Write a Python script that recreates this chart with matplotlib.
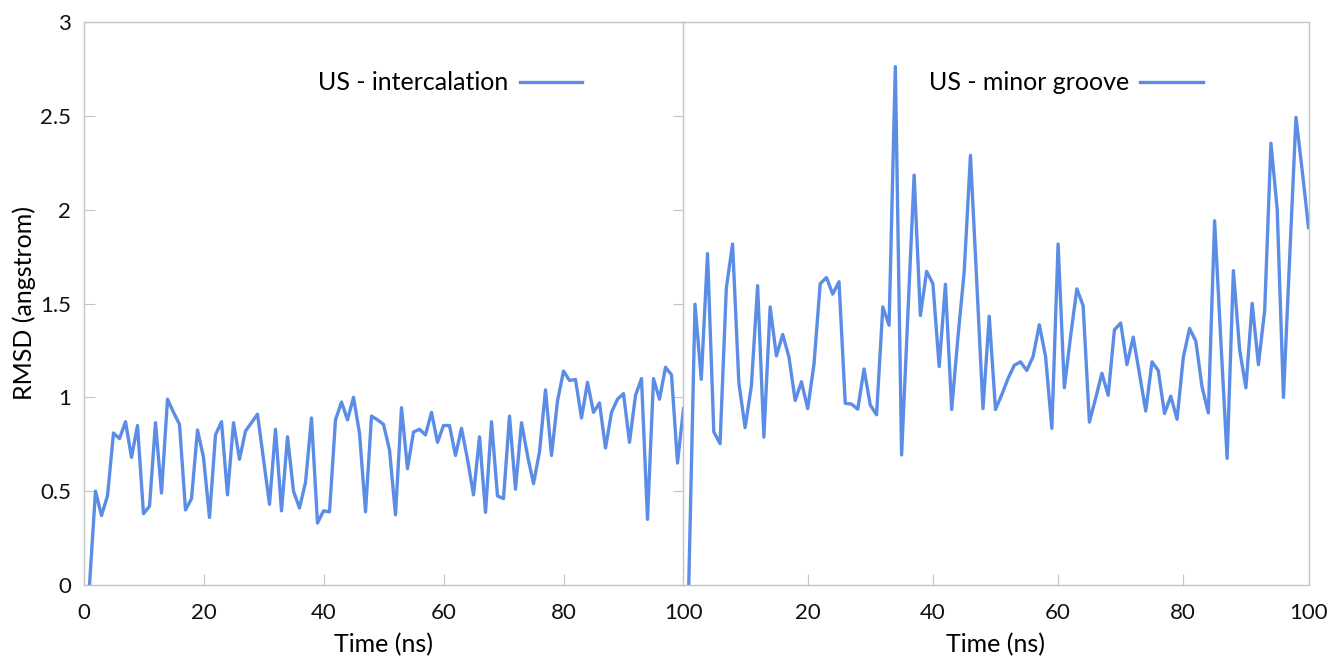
import matplotlib.pyplot as plt

plt.rcParams['font.family'] = ['Lato', 'DejaVu Sans']

# time in ns, one frame per ns
time_ns = list(range(1, 101))

rmsd_intercalation = [
    0.0, 0.50, 0.37, 0.475, 0.81, 0.78, 0.87, 0.68, 0.85, 0.38,
    0.42, 0.865, 0.49, 0.99, 0.92, 0.856, 0.40, 0.46, 0.826, 0.68,
    0.36, 0.80, 0.87, 0.48, 0.865, 0.67, 0.82, 0.865, 0.91, 0.67,
    0.43, 0.83, 0.395, 0.79, 0.50, 0.41, 0.546, 0.89, 0.33, 0.395,
    0.39, 0.88, 0.975, 0.88, 1.00, 0.81, 0.39, 0.90, 0.88, 0.856,
    0.72, 0.374, 0.945, 0.62, 0.815, 0.83, 0.80, 0.92, 0.76, 0.85,
    0.85, 0.69, 0.835, 0.67, 0.48, 0.79, 0.387, 0.87, 0.475, 0.46,
    0.90, 0.51, 0.865, 0.69, 0.54, 0.71, 1.04, 0.69, 0.98, 1.14,
    1.09, 1.095, 0.89, 1.08, 0.92, 0.97, 0.73, 0.92, 0.99, 1.02,
    0.76, 1.01, 1.10, 0.35, 1.10, 0.99, 1.16, 1.12, 0.65, 0.94,
]

rmsd_minor_groove = [
    0.0, 1.496, 1.096, 1.766, 0.816, 0.753, 1.583, 1.817, 1.078, 0.839,
    1.060, 1.595, 0.788, 1.482, 1.221, 1.335, 1.216, 0.983, 1.083, 0.940,
    1.175, 1.606, 1.638, 1.550, 1.616, 0.968, 0.964, 0.937, 1.151, 0.959,
    0.907, 1.482, 1.384, 2.762, 0.693, 1.44, 2.184, 1.436, 1.671, 1.605,
    1.164, 1.602, 0.935, 1.32, 1.67, 2.289, 1.62, 0.94, 1.432, 0.935,
    1.014, 1.10, 1.171, 1.189, 1.143, 1.217, 1.387, 1.217, 0.835, 1.817,
    1.051, 1.327, 1.578, 1.488, 0.868, 0.996, 1.128, 1.011, 1.360, 1.396,
    1.174, 1.321, 1.125, 0.927, 1.189, 1.143, 0.914, 1.006, 0.883, 1.213,
    1.367, 1.299, 1.055, 0.917, 1.941, 1.30, 0.675, 1.675, 1.253, 1.051,
    1.501, 1.174, 1.464, 2.354, 2.002, 1.0, 1.75, 2.492, 2.207, 1.905,
]

y_ticks = [0, 0.5, 1, 1.5, 2, 2.5, 3]
y_labels = ['0', '0.5', '1', '1.5', '2', '2.5', '3']

line_color = '#5b8de6'
spine_color = '#c4c4c4'
W, H = 1333, 658

fig = plt.figure(figsize=(W / 100, H / 100), dpi=100)
ax1 = fig.add_axes([83.5 / W, 1 - 585 / H, 600 / W, 563 / H])
ax2 = fig.add_axes([682.5 / W, 1 - 585 / H, 626 / W, 563 / H])

for ax in (ax1, ax2):
    ax.set_xlim(0, 100)
    ax.set_ylim(0, 3)
    for s in ax.spines.values():
        s.set_color(spine_color)
        s.set_linewidth(1.0)
    ax.tick_params(direction='in', length=8, color=spine_color,
                   labelsize=16, labelcolor='#111111')
    ax.tick_params(axis='x', pad=13)
    ax.set_xlabel('Time (ns)', fontsize=18, labelpad=7)

ax1.plot(time_ns, rmsd_intercalation, color=line_color, lw=2.4,
         label='US - intercalation')
ax2.plot(time_ns, rmsd_minor_groove, color=line_color, lw=2.4,
         label='US - minor groove')

ax1.set_xticks([0, 20, 40, 60, 80, 100])
ax1.set_yticks(y_ticks)
ax1.set_yticklabels(y_labels)
ax1.tick_params(axis='y', right=True, pad=9)
ax1.set_ylabel('RMSD (angstrom)', fontsize=18, labelpad=3)

ax2.set_xticks([20, 40, 60, 80, 100])
ax2.set_yticks([])

for ax in (ax1, ax2):
    ax.legend(loc='center right', bbox_to_anchor=(0.831, 0.892),
              markerfirst=False, frameon=False, fontsize=18,
              handlelength=2.5, handletextpad=0.45,
              borderpad=0, borderaxespad=0)

fig.savefig('out.png', dpi=100)
